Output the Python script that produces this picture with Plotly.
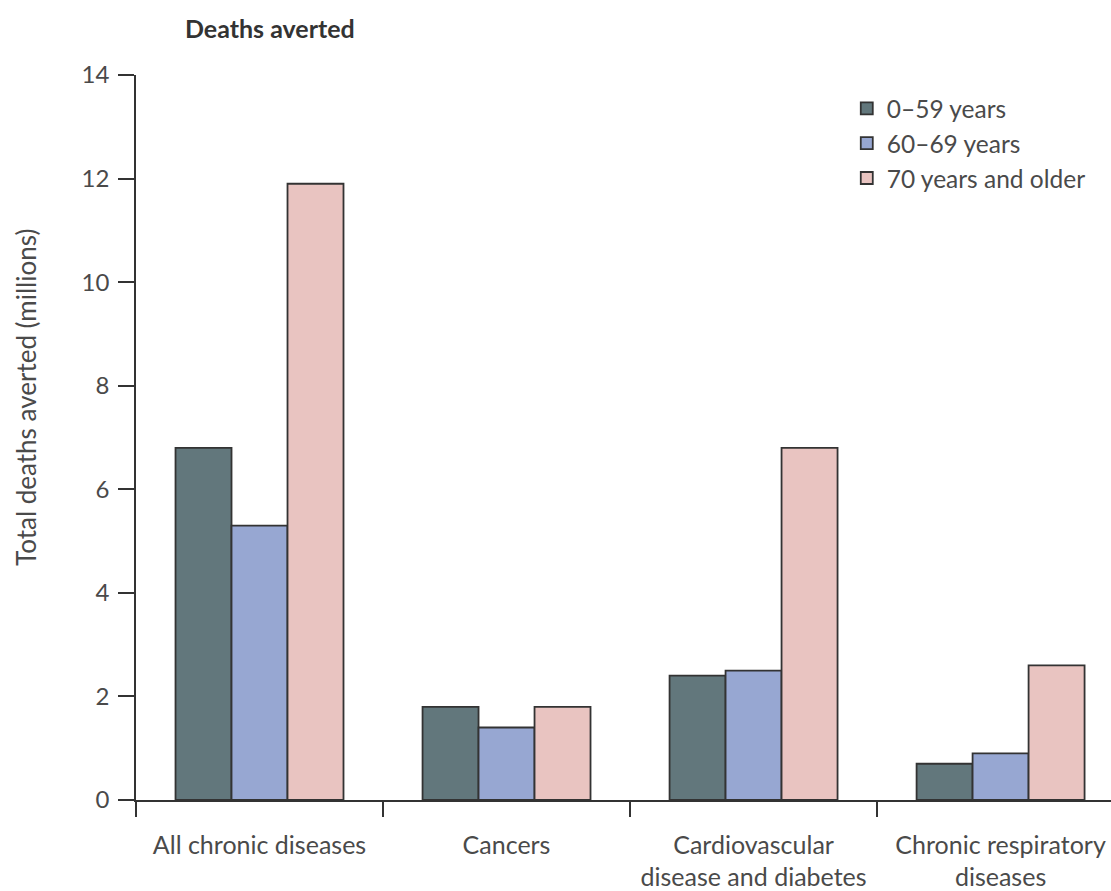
import plotly.graph_objects as go

categories = ["All chronic diseases", "Cancers",
              "Cardiovascular<br>disease and diabetes", "Chronic respiratory<br>diseases"]
age_0_59 = [6.8, 1.8, 2.4, 0.7]
age_60_69 = [5.3, 1.4, 2.5, 0.9]
age_70_plus = [11.9, 1.8, 6.8, 2.6]
series_names = ["0–59 years", "60–69 years", "70 years and older"]
y_ticks = [0, 2, 4, 6, 8, 10, 12, 14]

colors = ["#62777c", "#97a7d2", "#e9c4c1"]
outline = "#333333"
font_family = "Lato, Open Sans, sans-serif"
text_col = "#4a4a4a"

# plot area: left edge 136 px, bottom 800 px, 975 x 725 px
fig = go.Figure()
for name, vals, col in zip(series_names, [age_0_59, age_60_69, age_70_plus], colors):
    fig.add_trace(go.Bar(
        x=categories, y=vals, name=name, legendgroup=name,
        marker=dict(color=col, line=dict(color=outline, width=1.8)),
    ))

fig.update_layout(
    width=1111, height=891,
    margin=dict(l=136, r=0, t=75, b=91),
    paper_bgcolor="white", plot_bgcolor="white",
    barmode="group", bargap=0.32, bargroupgap=0,
    font=dict(family=font_family, size=24, color=text_col),
    showlegend=True,
    legend=dict(x=0.729, y=0.985, xanchor="left", yanchor="top",
                bgcolor="rgba(0,0,0,0)", font=dict(size=24.5, color=text_col),
                itemwidth=30, tracegroupgap=0),
    annotations=[
        dict(text="<b>Deaths averted</b>", xref="paper", yref="paper",
             x=(183 - 136) / 975, y=(800 - 28) / 725, xanchor="left",
             yanchor="middle", showarrow=False,
             font=dict(size=25, color="#333333")),
        dict(text="Total deaths averted (millions)", xref="paper", yref="paper",
             x=(26 - 136) / 975, y=(800 - 398) / 725, xanchor="center",
             yanchor="middle", textangle=-90, showarrow=False,
             font=dict(size=26, color=text_col)),
    ],
)

fig.update_xaxes(
    range=[-0.5, 3.447],
    showline=True, linecolor="#333333", linewidth=1.6,
    ticks="outside", tickson="boundaries", ticklen=15, tickwidth=1.6, tickcolor="#333333",
    ticklabelstandoff=22,
    tickfont=dict(size=25, color=text_col),
    showgrid=False, zeroline=False,
)
fig.update_yaxes(
    range=[0, 14], tickvals=y_ticks,
    showline=True, linecolor="#333333", linewidth=1.6,
    ticks="outside", ticklen=16, tickwidth=1.6, tickcolor="#333333",
    ticklabelstandoff=4,
    tickfont=dict(size=24, color=text_col),
    showgrid=False, zeroline=False,
)

fig.write_html("out.html")
